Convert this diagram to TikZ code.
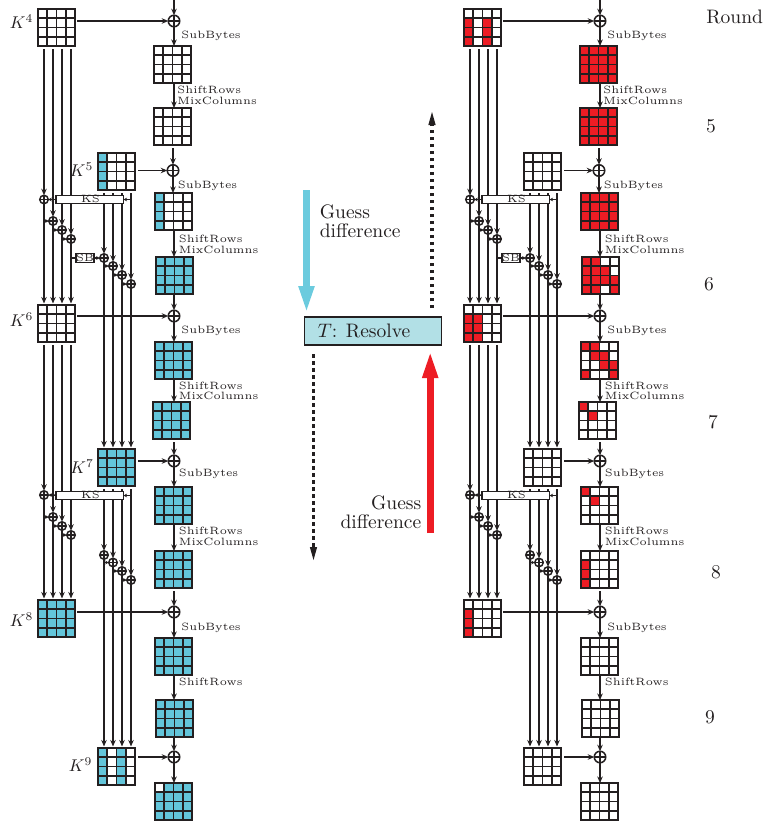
\documentclass[tikz,border=0pt]{standalone}
\usetikzlibrary{arrows.meta,calc}
\definecolor{cellblue}{HTML}{63C5DA}
\definecolor{cellred}{HTML}{ED1C24}
\definecolor{boxfill}{HTML}{B2E0E6}
\definecolor{arrowblue}{HTML}{6BCBDE}
\definecolor{ink}{HTML}{231F20}
\tikzset{
  gridbox/.style={inner sep=0pt,outer sep=0pt,minimum size=37pt,fill=white},
  conn/.style={draw=ink,line width=1.7pt,-{Stealth[length=6.5pt,width=5.5pt]}},
  plain/.style={draw=ink,line width=1.7pt},
  stub/.style={draw=ink,line width=1.7pt,-{Stealth[length=3.5pt,width=3.5pt]}},
  gapstart/.style={shorten <=3pt},
  xorbig/.style={circle,draw=ink,fill=white,line width=1.5pt,inner sep=0pt,outer sep=0pt,minimum size=11.5pt,
    path picture={\draw[ink,line width=1.5pt] (path picture bounding box.north)--(path picture bounding box.south) (path picture bounding box.west)--(path picture bounding box.east);}},
  xorsmall/.style={xorbig,minimum size=8.5pt},
  opbox/.style={draw=ink,fill=white,line width=1.4pt,inner sep=0pt,outer sep=0pt},
  tinytext/.style={text=ink,font=\fontsize{5}{6}\selectfont,inner sep=0pt,scale=2.12,transform shape},
  steplabel/.style={tinytext,anchor=west,yshift=-0.7pt},
  bigtext/.style={text=ink,font=\fontsize{10}{9.7}\selectfont,inner sep=0pt,scale=1.95,transform shape},
  keylabel/.style={text=ink,inner sep=0pt,scale=1.7,transform shape},
  dotted arrow/.style={draw=ink,line width=3.2pt,dash pattern=on 3.5pt off 3.5pt},
}
\newcommand\grd[4]{%
  \node[gridbox] (#1) at (#2+18.5,#3+18.5) {};
  \edef\tmpcells{#4}%
  \ifx\tmpcells\empty\else
    \foreach \cc/\rr in \tmpcells {\fill[\cellcol] (#2+\cc*9.25,#3+\rr*9.25) rectangle ++(9.25,9.25);}
  \fi
  \foreach \ii in {0,...,4} {
    \fill[ink] (#2+\ii*9.25-0.95,#3-0.95) rectangle (#2+\ii*9.25+0.95,#3+37.95);
    \fill[ink] (#2-0.95,#3+\ii*9.25-0.95) rectangle (#2+37.95,#3+\ii*9.25+0.95);
  }
}
\def\Call{0/0,1/0,2/0,3/0,0/1,1/1,2/1,3/1,0/2,1/2,2/2,3/2,0/3,1/3,2/3,3/3}
\newcommand\drawpanel{%
  % grids
  \grd{k4}{38}{9}{\CKiv}
  \grd{a1}{154}{46}{\CAa}
  \grd{a2}{154}{108}{\CAb}
  \grd{k5}{98}{153}{\CKv}
  \grd{a3}{155}{193}{\CAc}
  \grd{a4}{156}{257}{\CAd}
  \grd{k6}{38}{305}{\CKvi}
  \grd{a5}{155}{342}{\CAe}
  \grd{a6}{153}{402}{\CAf}
  \grd{k7}{98}{449}{\CKvii}
  \grd{a7}{155}{487}{\CAg}
  \grd{a8}{155}{551}{\CAh}
  \grd{k8}{38}{600}{\CKviii}
  \grd{a9}{155}{638}{\CAi}
  \grd{a10}{156}{700}{\CAj}
  \grd{k9}{98}{748}{\CKix}
  \grd{a11}{155}{783}{\CAk}
  % main xors
  \coordinate (top) at (174,0);
  \node[xorbig] (m1) at (174,21) {};
  \node[xorbig] (m2) at (173,170.5) {};
  \node[xorbig] (m3) at (174,316) {};
  \node[xorbig] (m4) at (174,461) {};
  \node[xorbig] (m5) at (174,612) {};
  \node[xorbig] (m6) at (174,757) {};
  % key schedule vertical lines
  \foreach \nm/\xx/\yy in {x1/44/199.5,x2/53/221,x3/62/230,x4/71/239,y1/104/258,y2/113/266,y3/122/275,y4/131/284,
      p1/44/495,p2/53/517,p3/62/526,p4/71/535,q1/104/555,q2/113/562.5,q3/122/571,q4/131/580}
    {\node[xorsmall] (\nm) at (\xx,\yy) {};}
  \foreach \nm in {x1,x2,x3,x4} {
    \draw[conn,gapstart] (\nm |- k4.south) -- (\nm);
    \draw[conn,shorten >=1.5pt] (\nm) -- (\nm |- k6.north);
  }
  \foreach \nm in {y1,y2,y3,y4} {
    \draw[conn,gapstart] (\nm |- k5.south) -- (\nm);
    \draw[conn,shorten >=1.5pt] (\nm) -- (\nm |- k7.north);
  }
  \foreach \nm in {p1,p2,p3,p4} {
    \draw[conn,gapstart] (\nm |- k6.south) -- (\nm);
    \draw[conn,shorten >=1.5pt] (\nm) -- (\nm |- k8.north);
  }
  \foreach \nm in {q1,q2,q3,q4} {
    \draw[conn,gapstart] (\nm |- k7.south) -- (\nm);
    \draw[conn,shorten >=1.5pt] (\nm) -- (\nm |- k9.north);
  }
  % KS and SB boxes
  \node[opbox,minimum width=67.5pt,minimum height=7.5pt] (ks1) at (89.75,199.5) {};
  \node[tinytext] (ks1t) at (90.5,198.6) {KS};
  \node[opbox,minimum width=67.5pt,minimum height=7.5pt] (ks2) at (89.75,495.5) {};
  \node[tinytext] (ks2t) at (90.5,494.6) {KS};
  \node[opbox,minimum width=18pt,minimum height=9pt] (sb) at (85,258) {};
  \node[tinytext] (sbt) at (85,257.6) {SB};
  % key schedule stubs
  \draw[stub] (y4 |- ks1) -- (ks1);
  \draw[stub] (ks1) -- (x1);
  \draw[stub] (y4 |- ks2) -- (ks2);
  \draw[stub] (ks2) -- (p1);
  \draw[stub] (x1 |- x2) -- (x2);
  \draw[stub] (x2 |- x3) -- (x3);
  \draw[stub] (x3 |- x4) -- (x4);
  \draw[plain] (x4 |- sb) -- (sb);
  \draw[stub] (sb) -- (y1);
  \draw[stub] (y1 |- y2) -- (y2);
  \draw[stub] (y2 |- y3) -- (y3);
  \draw[stub] (y3 |- y4) -- (y4);
  \draw[stub] (p1 |- p2) -- (p2);
  \draw[stub] (p2 |- p3) -- (p3);
  \draw[stub] (p3 |- p4) -- (p4);
  \draw[stub] (q1 |- q2) -- (q2);
  \draw[stub] (q2 |- q3) -- (q3);
  \draw[stub] (q3 |- q4) -- (q4);
  % keys into state
  \draw[conn,shorten <=2pt] (k4.east |- m1) -- (m1);
  \draw[conn,shorten <=3pt] (k5.east |- m2) -- (m2);
  \draw[conn,shorten <=2pt] (k6.east |- m3) -- (m3);
  \draw[conn,shorten <=3pt] (k7.east |- m4) -- (m4);
  \draw[conn,shorten <=2pt] (k8.east |- m5) -- (m5);
  \draw[conn,shorten <=3pt] (k9.east |- m6) -- (m6);
  % state column
  \draw[conn] (top) -- (m1);
  \draw[conn] (m1) -- (m1 |- a1.north);
  \draw[conn] (m1 |- a1.south) -- (m1 |- a2.north);
  \draw[conn,gapstart] (m2 |- a2.south) -- (m2);
  \draw[conn] (m2) -- (m2 |- a3.north);
  \draw[conn] (m3 |- a3.south) -- (m3 |- a4.north);
  \draw[conn] (m3 |- a4.south) -- (m3);
  \draw[conn] (m3) -- (m3 |- a5.north);
  \draw[conn] (m3 |- a5.south) -- (m3 |- a6.north);
  \draw[conn,gapstart] (m4 |- a6.south) -- (m4);
  \draw[conn] (m4) -- (m4 |- a7.north);
  \draw[conn] (m5 |- a7.south) -- (m5 |- a8.north);
  \draw[conn,gapstart] (m5 |- a8.south) -- (m5);
  \draw[conn] (m5) -- (m5 |- a9.north);
  \draw[conn] (m5 |- a9.south) -- (m5 |- a10.north);
  \draw[conn] (m6 |- a10.south) -- (m6);
  \draw[conn] (m6) -- (m6 |- a11.north);
  % labels
  \node[steplabel] (s1) at (181,34.5) {SubBytes};
  \node[steplabel] (r1) at (177,88) {ShiftRows};
  \node[steplabel] (c1) at (177,99.5) {MixColumns};
  \node[steplabel] (s2) at (177.5,184) {SubBytes};
  \node[steplabel] (r2) at (178.5,237) {ShiftRows};
  \node[steplabel] (c2) at (178.5,248.5) {MixColumns};
  \node[steplabel] (s3) at (181,329.5) {SubBytes};
  \node[steplabel] (r3) at (178.5,384) {ShiftRows};
  \node[steplabel] (c3) at (178.5,394.5) {MixColumns};
  \node[steplabel] (s4) at (178.5,472.5) {SubBytes};
  \node[steplabel] (r4) at (178.5,529.5) {ShiftRows};
  \node[steplabel] (c4) at (178.5,540.5) {MixColumns};
  \node[steplabel] (s5) at (181,626) {SubBytes};
  \node[steplabel] (r5) at (178.5,680) {ShiftRows};
}
\begin{document}
\begin{tikzpicture}[x=1pt,y=-1pt]
\useasboundingbox (0,0) rectangle (763,825);
% left panel
\def\cellcol{cellblue}
\def\CKiv{}\def\CAa{}\def\CAb{}
\def\CKv{0/0,0/1,0/2,0/3}\def\CAc{0/0,0/1,0/2,0/3}
\def\CAd{\Call}\def\CKvi{}\def\CAe{\Call}\def\CAf{\Call}
\def\CKvii{\Call}\def\CAg{\Call}\def\CAh{\Call}\def\CKviii{\Call}
\def\CAi{\Call}\def\CAj{\Call}
\def\CKix{0/0,0/1,0/2,0/3,2/0,2/1,2/2,2/3}
\def\CAk{1/0,2/0,3/0,0/1,1/1,2/1,3/1,0/2,1/2,2/2,3/2,0/3,1/3,2/3,3/3}
\begin{scope}[name prefix=L-]
\drawpanel
\end{scope}
% right panel
\def\cellcol{cellred}
\def\CKiv{0/1,0/2,0/3,2/1,2/2,2/3}\def\CAa{\Call}\def\CAb{\Call}
\def\CKv{}\def\CAc{\Call}
\def\CAd{0/0,1/0,0/1,1/1,2/1,0/2,1/2,2/2,3/2,0/3,1/3,3/3}
\def\CKvi{0/1,1/1,0/2,1/2,0/3,1/3}
\def\CAe{0/0,1/0,1/1,2/1,2/2,3/2,0/3,3/3}
\def\CAf{0/0,1/1}\def\CKvii{}\def\CAg{0/0,1/1}
\def\CAh{0/1,0/2,0/3}\def\CKviii{0/1,0/2,0/3}
\def\CAi{}\def\CAj{}\def\CKix{}\def\CAk{}
\begin{scope}[name prefix=R-,xshift=426pt]
\drawpanel
\end{scope}
% key labels
\node[keylabel] (K4) at (21.5,21.5) {$K^4$};
\node[keylabel] (K5) at (81.5,170) {$K^5$};
\node[keylabel] (K6) at (21.5,319.5) {$K^6$};
\node[keylabel] (K7) at (82,466.5) {$K^7$};
\node[keylabel] (K8) at (21.5,619.5) {$K^8$};
\node[keylabel] (K9) at (80.5,764.5) {$K^9$};
% round labels
\node[bigtext,anchor=west] (round) at (706,17) {Round};
\node[bigtext] (n5) at (711,126) {5};
\node[bigtext] (n6) at (709,284) {6};
\node[bigtext] (n7) at (713,422) {7};
\node[bigtext] (n8) at (716,572) {8};
\node[bigtext] (n9) at (710,717) {9};
% centre
\node[draw=ink,fill=boxfill,line width=1.6pt,minimum width=137pt,minimum height=28pt,inner sep=0pt,outer sep=0pt] (res) at (373,331) {};
\node[bigtext] (rest) at (364,331) {$T$: Resolve};
\coordinate (bs) at (306.5,190);
\coordinate (bt) at (306.5,314);
\coordinate (rs) at (430.2,533);
\coordinate (rt) at (430.2,350);
\coordinate (us) at (432,308);
\coordinate (ut) at (432,112);
\coordinate (ds) at (313.5,354);
\coordinate (dt) at (313.5,560);
\draw[line width=7pt,draw=arrowblue,-{Triangle[length=28pt,width=14pt,fill=arrowblue]}] (bs) -- (bt);
\draw[line width=7pt,draw=cellred,-{Triangle[length=28pt,width=14pt,fill=cellred]}] (rs) -- (rt);
\draw[dotted arrow] (us) -- ($(ut)+(0,12)$);
\fill[ink] (ut) -- ++(3.7,13) -- ++(-7.4,0) -- cycle;
\draw[dotted arrow] (ds) -- ($(dt)+(0,-12)$);
\fill[ink] (dt) -- ++(3.7,-13) -- ++(-7.4,0) -- cycle;
\node[bigtext,anchor=west,align=left] (g1) at (319.5,221.5) {Guess\\difference};
\node[bigtext,anchor=east,align=right] (g2) at (421.7,512) {Guess\\difference};
\end{tikzpicture}
\end{document}
